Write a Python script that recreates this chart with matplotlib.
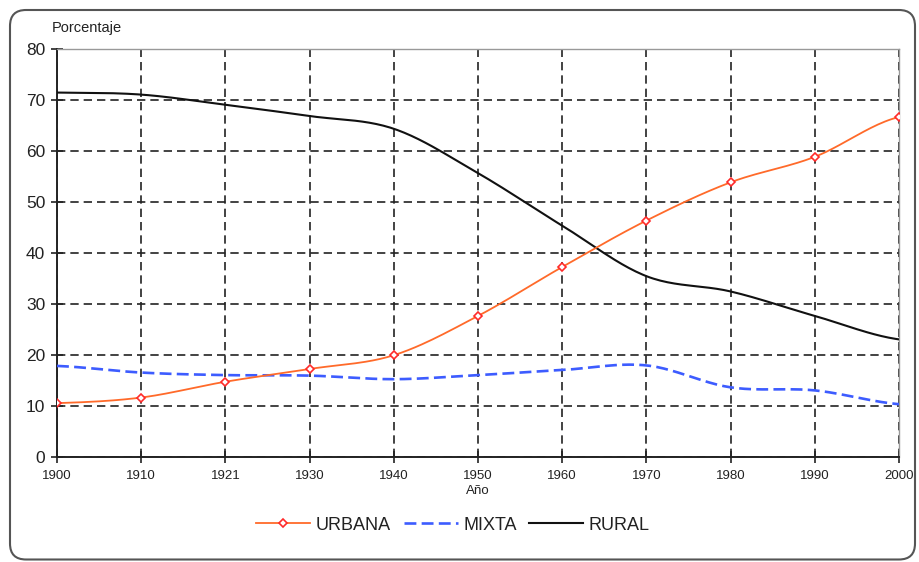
import numpy as np
import matplotlib
matplotlib.use('Agg')
import matplotlib.pyplot as plt
from matplotlib.patches import FancyBboxPatch

plt.rcParams['font.family'] = ['Liberation Sans', 'DejaVu Sans']

years = ['1900', '1910', '1921', '1930', '1940', '1950', '1960', '1970', '1980', '1990', '2000']
urbana = [10.5, 11.6, 14.7, 17.2, 19.9, 27.6, 37.2, 46.3, 53.8, 58.8, 66.6]
mixta = [17.8, 16.5, 16.0, 15.9, 15.2, 16.0, 17.0, 17.9, 13.6, 13.0, 10.3]
rural = [71.4, 71.0, 69.0, 66.8, 64.3, 55.6, 45.3, 35.4, 32.4, 27.6, 23.0]

def smooth(vals, n=24):
    # catmull-rom through the points, like a spreadsheet "smoothed line"
    p = np.asarray(vals, dtype=float)
    m = len(p)
    xs, ys = [], []
    for i in range(m - 1):
        p0 = p[i - 1] if i > 0 else p[i]
        p1 = p[i]
        p2 = p[i + 1]
        p3 = p[i + 2] if i + 2 < m else p[i + 1]
        t = np.linspace(0, 1, n, endpoint=False)
        y = 0.5 * (2 * p1 + (-p0 + p2) * t + (2 * p0 - 5 * p1 + 4 * p2 - p3) * t ** 2
                   + (-p0 + 3 * p1 - 3 * p2 + p3) * t ** 3)
        xs.extend(i + t)
        ys.extend(y)
    xs.append(m - 1)
    ys.append(p[-1])
    return np.array(xs), np.array(ys), list(range(0, n * (m - 1) + 1, n))

fig = plt.figure(figsize=(9.2, 5.62), dpi=100)
ax = fig.add_axes([57 / 920, 1 - 456.7 / 562, (899 - 57) / 920, (456.7 - 48.7) / 562])

x = np.arange(len(years))
ax.set_xlim(0, len(years) - 1)
ax.set_ylim(0, 80)
ax.set_xticks(x)
ax.set_xticklabels(years, fontsize=9.5)
ax.set_yticks(np.arange(0, 81, 10))
ax.tick_params(axis='y', direction='inout', length=9, width=1.2, labelsize=12.5, pad=4, colors='#222222')
ax.tick_params(axis='x', direction='inout', length=9, width=1.2, pad=5, colors='#222222')
ax.grid(True, color='#222222', linestyle=(0, (5, 3)), linewidth=1.2)
ax.set_axisbelow(True)
for s in ['top', 'right']:
    ax.spines[s].set_color('#999999')
    ax.spines[s].set_linewidth(1.0)
for s in ['left', 'bottom']:
    ax.spines[s].set_color('#222222')
    ax.spines[s].set_linewidth(1.4)

sx, sy, idx = smooth(urbana)
ax.plot(sx, sy, color='#ff6a2a', linewidth=1.3, marker='D', markevery=idx, markersize=4.5,
        markerfacecolor='white', markeredgecolor='#ff2a2a', markeredgewidth=1.2,
        label='URBANA', zorder=4)
sx, sy, idx = smooth(mixta)
ax.plot(sx, sy, color='#3d5cff', linewidth=1.9, linestyle=(0, (4.5, 2)), label='MIXTA', zorder=3)
sx, sy, idx = smooth(rural)
ax.plot(sx, sy, color='#111111', linewidth=1.5, label='RURAL', zorder=3)

fig.text(52 / 920, 1 - 28 / 562, 'Porcentaje', fontsize=10.5, va='center', ha='left', color='#222222')
fig.text(478 / 920, 1 - 491 / 562, 'Año', fontsize=9.5, va='center', ha='center', color='#222222')

fig.legend(loc='center', bbox_to_anchor=(453 / 920, 1 - 525 / 562), ncol=3, frameon=False,
           fontsize=13, handlelength=3.0, handletextpad=0.3, columnspacing=0.7,
           labelcolor='#222222')

frame = FancyBboxPatch((10, 2.5), 905, 549.5, boxstyle='round,pad=0,rounding_size=16',
                       transform=None, facecolor='none', edgecolor='#555555', linewidth=1.5)
fig.add_artist(frame)

fig.savefig('out.png', dpi=100)
